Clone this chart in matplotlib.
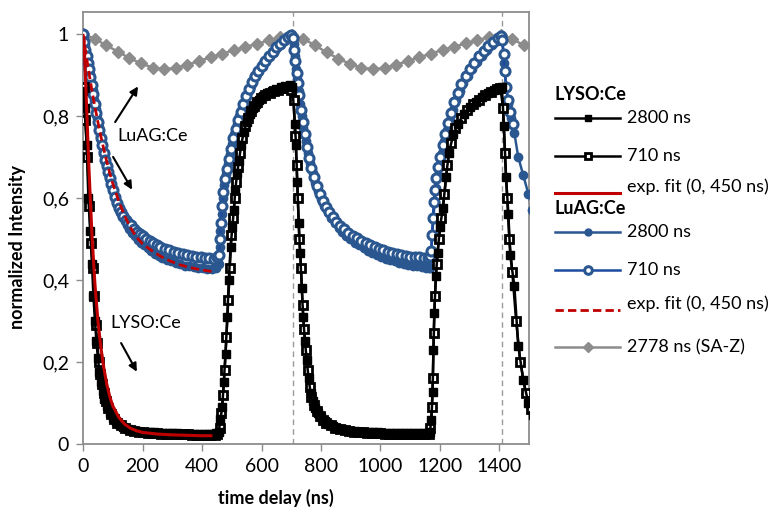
import matplotlib
matplotlib.use('Agg')
import matplotlib.pyplot as plt
from matplotlib.lines import Line2D

plt.rcParams['font.family'] = ['Lato', 'DejaVu Sans']

# --- LYSO:Ce, 2800 ns (filled squares)
t_lyso_2800 = [0, 5, 12, 18, 24, 30, 35, 40, 45, 50, 55, 60, 66, 72, 80, 90, 100, 110, 120, 135,
               150, 165, 180, 195, 210, 225, 240, 255, 270, 285, 300, 315, 330, 345, 360, 375, 390, 405, 420, 435,
               448, 456,
               462, 468, 473, 479, 485, 490, 496, 502, 507, 512, 518, 524, 532, 540, 550, 560, 570, 580, 592, 605,
               620, 635, 650, 665, 680, 695, 704,
               712, 716, 720, 725, 730, 736, 740, 746, 752, 758, 765, 772, 780, 790, 800, 812, 825, 840, 855, 870,
               885, 900, 915, 930, 945, 960, 975, 990, 1005, 1020, 1035, 1050, 1065, 1080, 1095, 1110, 1125, 1140,
               1155, 1166,
               1171, 1175, 1178, 1181, 1186, 1192, 1200, 1210, 1220, 1230, 1245, 1260, 1280, 1300, 1320, 1340,
               1360, 1380, 1398, 1408,
               1415, 1422, 1430, 1436, 1450, 1463, 1480, 1497, 1512]
v_lyso_2800 = [0.86, 0.82, 0.73, 0.60, 0.52, 0.44, 0.36, 0.30, 0.25, 0.21, 0.175, 0.15, 0.128, 0.11, 0.092,
               0.076, 0.064, 0.055, 0.048, 0.041,
               0.036, 0.033, 0.031, 0.030, 0.029, 0.028, 0.028, 0.027, 0.027, 0.026, 0.026, 0.026, 0.025, 0.025,
               0.025, 0.025, 0.024, 0.024, 0.025, 0.025,
               0.026, 0.030,
               0.06, 0.09, 0.15, 0.22, 0.31, 0.40, 0.48, 0.53, 0.57, 0.62, 0.66, 0.69, 0.73, 0.76, 0.785, 0.805,
               0.82, 0.83, 0.84, 0.848,
               0.855, 0.86, 0.865, 0.87, 0.873, 0.876, 0.87,
               0.78, 0.73, 0.64, 0.54, 0.465, 0.38, 0.31, 0.25, 0.205, 0.16, 0.125, 0.105, 0.088, 0.075, 0.065,
               0.056, 0.049, 0.043, 0.039, 0.036,
               0.034, 0.032, 0.031, 0.030, 0.029, 0.029, 0.028, 0.028, 0.027, 0.027, 0.027, 0.026, 0.026, 0.026,
               0.026, 0.026, 0.026, 0.026, 0.027, 0.030,
               0.058, 0.127, 0.23, 0.32, 0.41, 0.465, 0.53, 0.575, 0.65, 0.71, 0.755, 0.78, 0.805, 0.822, 0.835,
               0.845, 0.855, 0.862, 0.868, 0.87,
               0.775, 0.65, 0.56, 0.46, 0.385, 0.24, 0.155, 0.10, 0.07]

# --- LYSO:Ce, 710 ns (open squares)
t_lyso_710 = [2, 8, 15, 21, 27, 33, 38, 43, 48, 53, 58, 63, 69, 76, 85, 95, 105, 115, 128, 142,
              158, 172, 188, 203, 218, 233, 248, 263, 278, 293, 308, 323, 338, 353, 368, 383, 398, 413, 428, 442,
              452,
              459, 465, 471, 476, 482, 488, 493, 499, 505, 510, 515, 521, 528, 536, 545, 555, 565, 575, 586, 598,
              612, 627, 642, 657, 672, 687, 700,
              708, 714, 718, 722, 727, 733, 738, 743, 749, 755, 762, 768, 776, 785, 795, 806, 818, 832, 848, 864,
              880, 895, 910, 925, 940, 955, 970, 985, 1000, 1015, 1030, 1045, 1060, 1075, 1090, 1105, 1120, 1135,
              1150, 1162,
              1168, 1173, 1176, 1179, 1183, 1189, 1196, 1205, 1215, 1225, 1237, 1252, 1270, 1290, 1310, 1330,
              1350, 1370, 1390, 1403,
              1412, 1418, 1426, 1433, 1443, 1456, 1470, 1488, 1505]
v_lyso_710 = [0.87, 0.79, 0.70, 0.58, 0.49, 0.43, 0.36, 0.29, 0.245, 0.20, 0.17, 0.145, 0.125, 0.105, 0.087,
              0.072, 0.061, 0.052, 0.045, 0.039,
              0.034, 0.031, 0.029, 0.028, 0.027, 0.026, 0.026, 0.025, 0.025, 0.024, 0.024, 0.023, 0.023, 0.023,
              0.022, 0.022, 0.022, 0.022, 0.022, 0.022,
              0.024,
              0.04, 0.075, 0.12, 0.18, 0.26, 0.35, 0.43, 0.51, 0.55, 0.60, 0.64, 0.675, 0.71, 0.745, 0.775, 0.795,
              0.812, 0.825, 0.835, 0.843,
              0.85, 0.856, 0.86, 0.864, 0.867, 0.868, 0.862,
              0.84, 0.75, 0.68, 0.60, 0.50, 0.43, 0.34, 0.28, 0.23, 0.18, 0.14, 0.115, 0.095, 0.08, 0.069, 0.059,
              0.051, 0.045, 0.040, 0.036,
              0.033, 0.031, 0.030, 0.029, 0.028, 0.027, 0.027, 0.026, 0.026, 0.025, 0.025, 0.025, 0.024, 0.024,
              0.024, 0.024, 0.024, 0.024, 0.024, 0.025,
              0.04, 0.09, 0.16, 0.27, 0.36, 0.44, 0.50, 0.55, 0.61, 0.68, 0.735, 0.77, 0.795, 0.815, 0.83, 0.84,
              0.85, 0.858, 0.865, 0.868,
              0.82, 0.71, 0.60, 0.50, 0.42, 0.30, 0.20, 0.125, 0.085]

# --- LuAG:Ce, 2800 ns (filled circles)
t_luag_2800 = [2, 6, 10, 14, 18, 23, 28, 33, 38, 43, 48, 53, 58, 63, 68, 73, 78, 83, 88, 93,
               98, 104, 111, 118, 125, 132, 140, 148, 156, 165, 175, 185, 195, 206, 218, 230, 242, 254, 267, 282,
               297, 312, 327, 342, 357, 372, 387, 402, 417, 432, 446,
               456, 459, 462, 466, 470, 475, 481, 487, 494, 501, 509, 517, 525, 534, 543, 553, 563, 573, 584, 595,
               606, 618, 631, 644, 657, 670, 683, 694, 703,
               708, 712, 716, 720, 725, 730, 735, 741, 748, 756, 764, 772, 781, 791, 801, 811, 822, 834, 846, 859,
               872, 885, 899, 913, 928, 943, 958, 973, 988, 1003, 1018, 1033, 1048, 1063, 1078, 1093, 1108, 1123,
               1138, 1152, 1164,
               1168, 1171, 1174, 1178, 1182, 1187, 1193, 1200, 1207, 1215, 1224, 1233, 1243, 1254, 1266, 1279,
               1293, 1308, 1324, 1340, 1357, 1374, 1390, 1402, 1409,
               1415, 1422, 1430, 1440, 1450, 1463, 1480, 1497, 1510]
v_luag_2800 = [0.99, 0.97, 0.952, 0.937, 0.92, 0.903, 0.883, 0.862, 0.84, 0.817, 0.795, 0.773, 0.752, 0.733,
               0.715, 0.698, 0.682, 0.666, 0.651, 0.637,
               0.623, 0.607, 0.591, 0.577, 0.565, 0.554, 0.543, 0.533, 0.524, 0.515, 0.506, 0.498, 0.491, 0.484,
               0.477, 0.470, 0.464, 0.459, 0.454, 0.449,
               0.445, 0.441, 0.438, 0.435, 0.433, 0.431, 0.429, 0.428, 0.427, 0.426, 0.428,
               0.44, 0.48, 0.52, 0.56, 0.60, 0.632, 0.658, 0.682, 0.707, 0.732, 0.757, 0.78, 0.80, 0.82, 0.84,
               0.858, 0.874, 0.889, 0.903, 0.916,
               0.928, 0.94, 0.951, 0.961, 0.971, 0.98, 0.988, 0.994, 0.99,
               0.975, 0.945, 0.915, 0.89, 0.86, 0.83, 0.80, 0.77, 0.74, 0.71, 0.684, 0.66, 0.637, 0.616, 0.597,
               0.58, 0.565, 0.551, 0.538, 0.527,
               0.517, 0.508, 0.499, 0.491, 0.484, 0.477, 0.471, 0.466, 0.461, 0.456, 0.452, 0.448, 0.445, 0.442,
               0.439, 0.437, 0.435, 0.433, 0.431, 0.430, 0.428,
               0.43, 0.47, 0.51, 0.55, 0.59, 0.625, 0.655, 0.683, 0.71, 0.738, 0.765, 0.79, 0.815, 0.838, 0.86,
               0.88, 0.898, 0.915, 0.932, 0.947, 0.96, 0.972, 0.983, 0.99, 0.985,
               0.93, 0.87, 0.83, 0.795, 0.758, 0.70, 0.655, 0.61, 0.57]

# --- LuAG:Ce, 710 ns (open circles)
t_luag_710 = [0, 4, 8, 12, 16, 20, 25, 30, 35, 40, 45, 50, 55, 60, 65, 70, 75, 80, 85, 90,
              95, 100, 107, 114, 121, 128, 136, 144, 152, 160, 170, 180, 190, 200, 212, 224, 236, 248, 260, 275,
              290, 305, 320, 335, 350, 365, 380, 395, 410, 425, 440, 452,
              458, 461, 464, 468, 472, 477, 483, 490, 497, 505, 513, 521, 530, 539, 548, 558, 568, 578, 589, 600,
              612, 624, 637, 650, 663, 676, 688, 698,
              706, 710, 714, 718, 722, 727, 732, 738, 745, 752, 760, 768, 777, 786, 796, 806, 817, 828, 840, 852,
              865, 878, 892, 906, 920, 935, 950, 965, 980, 995, 1010, 1025, 1040, 1055, 1070, 1085, 1100, 1115,
              1130, 1145, 1160, 1167,
              1170, 1173, 1176, 1179, 1183, 1188, 1194, 1201, 1209, 1217, 1226, 1236, 1247, 1259, 1272, 1286,
              1300, 1315, 1331, 1347, 1363, 1379, 1394, 1404,
              1410, 1414, 1418, 1423, 1429, 1436, 1444]
v_luag_710 = [1.0, 0.98, 0.96, 0.945, 0.93, 0.915, 0.895, 0.875, 0.853, 0.83, 0.807, 0.785, 0.765, 0.745,
              0.728, 0.71, 0.693, 0.677, 0.662, 0.648,
              0.634, 0.62, 0.603, 0.588, 0.576, 0.566, 0.556, 0.547, 0.54, 0.533, 0.525, 0.518, 0.512, 0.506,
              0.50, 0.494, 0.489, 0.485, 0.481, 0.476,
              0.472, 0.468, 0.465, 0.462, 0.46, 0.458, 0.456, 0.455, 0.454, 0.453, 0.452, 0.455,
              0.46, 0.50, 0.54, 0.58, 0.615, 0.645, 0.67, 0.695, 0.72, 0.745, 0.768, 0.79, 0.81, 0.83, 0.848,
              0.866, 0.882, 0.897, 0.91, 0.922,
              0.935, 0.946, 0.957, 0.967, 0.976, 0.985, 0.993, 0.998,
              0.99, 0.96, 0.935, 0.905, 0.88, 0.85, 0.815, 0.785, 0.755, 0.725, 0.697, 0.672, 0.65, 0.63, 0.61,
              0.593, 0.578, 0.565, 0.553, 0.542,
              0.532, 0.523, 0.515, 0.508, 0.502, 0.496, 0.49, 0.485, 0.48, 0.476, 0.472, 0.469, 0.466, 0.463,
              0.461, 0.459, 0.457, 0.456, 0.455, 0.454, 0.454, 0.458,
              0.47, 0.51, 0.55, 0.59, 0.62, 0.648, 0.675, 0.70, 0.728, 0.755, 0.782, 0.808, 0.833, 0.857, 0.878,
              0.898, 0.914, 0.93, 0.945, 0.958, 0.97, 0.981, 0.99, 0.995,
              0.985, 0.95, 0.91, 0.87, 0.84, 0.81, 0.78]

# --- exponential fits (0, 450 ns)
t_fit_lyso = [3, 10, 20, 30, 40, 50, 60, 70, 80, 90, 100, 120, 140, 160, 180, 200, 250, 300, 350, 400, 430]
v_fit_lyso = [0.99, 0.86, 0.67, 0.51, 0.39, 0.30, 0.235, 0.185, 0.145, 0.115, 0.093, 0.065, 0.048, 0.038,
              0.032, 0.028, 0.024, 0.022, 0.021, 0.020, 0.020]
t_fit_luag = [0, 10, 20, 30, 40, 50, 60, 70, 80, 90, 100, 120, 140, 160, 180, 200, 230, 260, 290, 320, 350,
              380, 410, 440]
v_fit_luag = [1.0, 0.95, 0.905, 0.862, 0.822, 0.785, 0.75, 0.718, 0.688, 0.66, 0.635, 0.592, 0.556, 0.527,
              0.504, 0.488, 0.472, 0.458, 0.447, 0.438, 0.432, 0.427, 0.423, 0.42]

# --- reference, 2778 ns (SA-Z)
t_saz = [0, 39, 78, 117, 156, 195, 234, 273, 312, 351, 390, 429, 468, 507, 546, 585, 624, 663, 702, 741,
         780, 819, 858, 897, 936, 975, 1014, 1053, 1092, 1131, 1170, 1209, 1248, 1287, 1326, 1365, 1404, 1443,
         1482, 1521]
v_saz = [1.0, 0.988, 0.972, 0.957, 0.941, 0.928, 0.918, 0.914, 0.917, 0.925, 0.934, 0.943, 0.952, 0.96,
         0.968, 0.976, 0.984, 0.992, 0.998, 0.988, 0.972, 0.955, 0.94, 0.927, 0.918, 0.914, 0.917, 0.925,
         0.934, 0.943, 0.952, 0.961, 0.969, 0.977, 0.985, 0.992, 0.998, 0.988, 0.972, 0.958]

pulse_marks = [705, 1410]
x_ticks = [0, 200, 400, 600, 800, 1000, 1200, 1400]
y_ticks = [0, 0.2, 0.4, 0.6, 0.8, 1.0]
y_ticklabels = ['0', '0,2', '0,4', '0,6', '0,8', '1']

BLK = '#000000'
RED = '#C00000'
BLUE_A = '#2B5791'
BLUE_B = '#1C4BA0'
GREY = '#8C8C8C'

styles = {
    'lyso_2800': dict(color=BLK, lw=1.8, marker='s', ms=5.5, mfc=BLK, mec=BLK),
    'lyso_710': dict(color=BLK, lw=1.8, marker='s', ms=5.5, mfc='white', mec=BLK, mew=2.0),
    'fit_lyso': dict(color=RED, lw=2.2),
    'luag_2800': dict(color=BLUE_A, lw=1.8, marker='o', ms=6, mfc=BLUE_A, mec=BLUE_A),
    'luag_710': dict(color=BLUE_B, lw=1.8, marker='o', ms=6.5, mfc='white', mec=BLUE_A, mew=2.2),
    'fit_luag': dict(color=RED, lw=2.0, ls=(0, (3, 1.5))),
    'saz': dict(color=GREY, lw=1.8, marker='D', ms=5.8, mfc=GREY, mec=GREY),
}


def main():
    fig = plt.figure(figsize=(7.76, 5.12), dpi=100)
    ax = fig.add_axes([0.107, 0.133, 0.575, 0.844])

    for xm in pulse_marks:
        ax.axvline(xm, color='#9a9a9a', lw=1.0, ls=(0, (4, 3)), zorder=1)

    ax.plot(t_saz, v_saz, zorder=2, **styles['saz'])
    ax.plot(t_luag_2800, v_luag_2800, zorder=3, **styles['luag_2800'])
    ax.plot(t_luag_710, v_luag_710, zorder=3, **styles['luag_710'])
    ax.plot(t_lyso_710, v_lyso_710, zorder=4, **styles['lyso_710'])
    ax.plot(t_lyso_2800, v_lyso_2800, zorder=4, **styles['lyso_2800'])
    ax.plot(t_fit_luag, v_fit_luag, zorder=5, **styles['fit_luag'])
    ax.plot(t_fit_lyso, v_fit_lyso, zorder=5, **styles['fit_lyso'])

    ax.set_xlim(0, 1500)
    ax.set_ylim(0, 1.054)
    ax.set_xticks(x_ticks)
    ax.set_yticks(y_ticks)
    ax.set_yticklabels(y_ticklabels)
    ax.tick_params(direction='out', length=5, width=1, color=GREY, labelsize=14, pad=5)
    for sp in ax.spines.values():
        sp.set_color(GREY)
        sp.set_linewidth(1.3)

    ax.set_xlabel('time delay (ns)', fontsize=13, fontweight='bold')
    ax.set_ylabel('normalized Intensity', fontsize=13, fontweight='bold')
    ax.xaxis.set_label_coords(0.433, -0.105)
    ax.yaxis.set_label_coords(-0.128, 0.455)

    # in-plot labels with arrows
    arrow = dict(arrowstyle='-|>', color=BLK, lw=1.5, mutation_scale=12, shrinkA=0, shrinkB=0)
    ax.text(233, 0.75, 'LuAG:Ce', fontsize=13, ha='center', va='center')
    ax.annotate('', xy=(185, 0.872), xytext=(108, 0.785), arrowprops=arrow)
    ax.annotate('', xy=(165, 0.62), xytext=(101, 0.70), arrowprops=arrow)
    ax.text(212, 0.295, 'LYSO:Ce', fontsize=13, ha='center', va='center')
    ax.annotate('', xy=(181, 0.176), xytext=(128, 0.246), arrowprops=arrow)

    # legend drawn at the right, grouped by material
    W, H = 776.0, 512.0
    x0, x1, xt = 555, 620, 627
    rows = [
        ('head', 'LYSO:Ce', None, 95),
        ('item', '2800 ns', 'lyso_2800', 118),
        ('item', '710 ns', 'lyso_710', 156),
        ('item', 'exp. fit (0, 450 ns)', 'fit_lyso', 193),
        ('head', 'LuAG:Ce', None, 208),
        ('item', '2800 ns', 'luag_2800', 232),
        ('item', '710 ns', 'luag_710', 270),
        ('item', 'exp. fit (0, 450 ns)', 'fit_luag', 310),
        ('item', '2778 ns (SA-Z)', 'saz', 347),
    ]
    for kind, label, key, ypx in rows:
        yf = 1 - ypx / H
        if kind == 'head':
            fig.text(x0 / W, yf, label, fontsize=13, fontweight='bold', ha='left', va='center')
            continue
        st = dict(styles[key])
        line_st = {k: v for k, v in st.items() if k in ('color', 'lw', 'ls')}
        fig.add_artist(Line2D([x0 / W, x1 / W], [yf, yf], transform=fig.transFigure, **line_st))
        if 'marker' in st:
            mk = {k: v for k, v in st.items() if k not in ('lw', 'ls')}
            mk['ms'] = st['ms'] - 1
            fig.add_artist(Line2D([(x0 + x1) / 2 / W], [yf], transform=fig.transFigure, ls='none', **mk))
        yt = yf + (6 / H if key.startswith('fit') else 0)
        fig.text(xt / W, yt, label, fontsize=13, ha='left', va='center')

    fig.savefig('out.png', dpi=100)


if __name__ == '__main__':
    main()
